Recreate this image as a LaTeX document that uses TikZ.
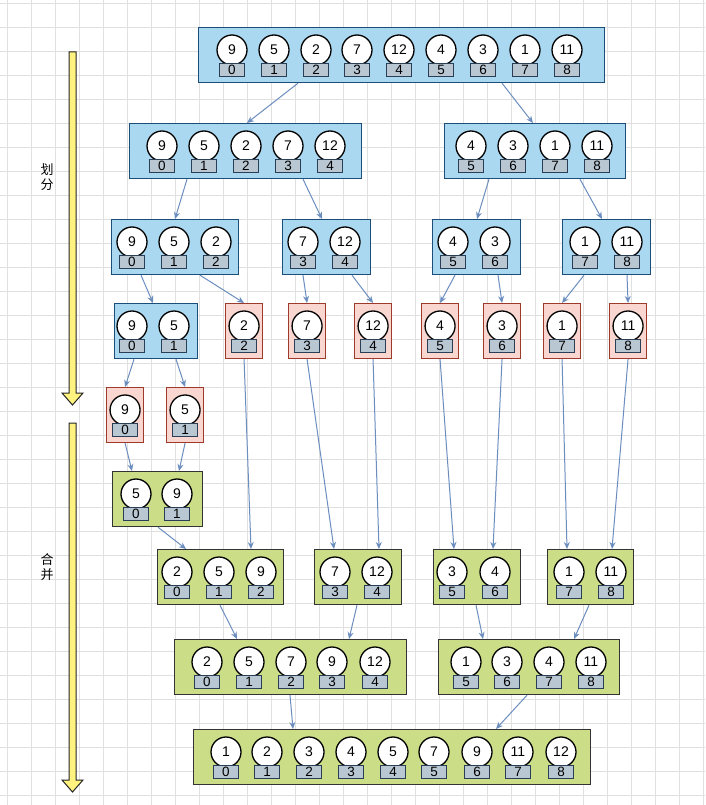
\documentclass[tikz,border=0pt]{standalone}
\usepackage{fontspec}
\setmainfont{Liberation Sans}
\newfontfamily\cjk{Noto Sans CJK SC}
\usetikzlibrary{arrows.meta,calc}
\definecolor{gridc}{HTML}{E0E0E0}
\definecolor{bfill}{HTML}{AAD8F0}
\definecolor{bdraw}{HTML}{1B4F7A}
\definecolor{rfill}{HTML}{F9D6CF}
\definecolor{rdraw}{HTML}{9E3A2C}
\definecolor{gfill}{HTML}{CCDD88}
\definecolor{gdraw}{HTML}{333333}
\definecolor{ifill}{HTML}{B9C7D3}
\definecolor{idraw}{HTML}{2A3F55}
\definecolor{conc}{HTML}{6C8EBF}
\definecolor{yfill}{HTML}{FFF27E}
\tikzset{
  bluebox/.style={draw=bdraw,fill=bfill,line width=1.2pt,inner sep=0pt},
  redbox/.style={draw=rdraw,fill=rfill,line width=1.1pt,inner sep=0pt},
  greenbox/.style={draw=gdraw,fill=gfill,line width=1.2pt,inner sep=0pt},
  elem/.style={circle,draw=black,fill=white,line width=1.3pt,minimum size=30pt,inner sep=0pt,font=\fontsize{14}{14}\selectfont},
  idx/.style={rectangle,draw=idraw,fill=ifill,line width=0.9pt,minimum width=25pt,minimum height=13pt,inner sep=0pt,font=\fontsize{13.5}{13.5}\selectfont},
  conn/.style={draw=conc,line width=1pt,-{Stealth[length=7pt,width=6pt]}},
  yarrow/.style={draw=black!85,fill=yfill,line width=1pt,line join=miter},
}
% #1 name, #2 style, #3 left, #4 top, #5 width, #6 list cx/value/index
\newcommand{\mkarr}[6]{%
  \node[#2,minimum width=#5pt,minimum height=55pt,anchor=north west] (#1) at (#3,#4) {};
  \foreach \cx/\v/\i [count=\k] in {#6} {
    \node[elem] (#1-\k) at (\cx,#4+23) {\v};
    \node[idx] (#1-i\k) at (\cx,#4+42.5) {\i};
  }
}
\newcommand{\mkone}[4]{%
  \node[redbox,minimum width=37pt,minimum height=55pt,anchor=north west] (#1) at (#2) {};
  \node[elem] (#1-c) at ([yshift=-23pt]#1.north) {#3};
  \node[idx] (#1-i) at ([yshift=-42.5pt]#1.north) {#4};
}
\begin{document}
\begin{tikzpicture}[x=1pt,y=-1pt]
\useasboundingbox (0,0) rectangle (705,805);
\fill[white] (0,0) rectangle (705,805);
% grid
\foreach \gx in {7,31,...,703} \draw[gridc,line width=0.9pt] (\gx,0) -- (\gx,805);
\foreach \gy in {3,27,...,803} \draw[gridc,line width=0.9pt] (0,\gy) -- (705,\gy);

% yellow arrows
\draw[yarrow] (69,52) -- (76,52) -- (76,393) -- (83,393) -- (72.5,405) -- (62,393) -- (69,393) -- cycle;
\draw[yarrow] (69,423) -- (76,423) -- (76,780) -- (83,780) -- (72.5,792) -- (62,780) -- (69,780) -- cycle;
\node[font=\cjk\fontsize{13}{15.5}\selectfont,align=center] (lbl1) at (47,177) {划\\分};
\node[font=\cjk\fontsize{13}{15.5}\selectfont,align=center] (lbl2) at (47,567) {合\\并};

% boxes
\mkarr{top}{bluebox}{198}{27}{406}{232/9/0,274/5/1,316/2/2,357/7/3,399/12/4,441/4/5,483/3/6,525/1/7,567/11/8}
\mkarr{Ltwoa}{bluebox}{129}{123}{232}{162/9/0,204/5/1,246/2/2,288/7/3,330/12/4}
\mkarr{Ltwob}{bluebox}{444}{123}{181}{471/4/5,513/3/6,555/1/7,597/11/8}
\mkarr{Lthra}{bluebox}{111}{219}{127}{132/9/0,174/5/1,216/2/2}
\mkarr{Lthrb}{bluebox}{282}{219}{88}{303/7/3,345/12/4}
\mkarr{Lthrc}{bluebox}{432}{219}{88}{453/4/5,495/3/6}
\mkarr{Lthrd}{bluebox}{562}{219}{88}{585/1/7,627/11/8}
\mkarr{Lfoura}{bluebox}{114}{303}{83}{132/9/0,174/5/1}
\mkone{rtwo}{225,303}{2}{2}
\mkone{rseven}{288,303}{7}{3}
\mkone{rtwelve}{354,303}{12}{4}
\mkone{rfour}{421,303}{4}{5}
\mkone{rthree}{483,303}{3}{6}
\mkone{rone}{543,303}{1}{7}
\mkone{releven}{609,303}{11}{8}
\mkone{rnine}{106,387}{9}{0}
\mkone{rfive}{166,387}{5}{1}
\mkarr{Gsix}{greenbox}{112}{471}{90}{136/5/0,177/9/1}
\mkarr{Gsevena}{greenbox}{157}{549}{126}{177/2/0,219/5/1,261/9/2}
\mkarr{Gsevenb}{greenbox}{314}{549}{87}{335/7/3,377/12/4}
\mkarr{Gsevenc}{greenbox}{433}{549}{87}{452/3/5,495/4/6}
\mkarr{Gsevend}{greenbox}{547}{549}{86}{569/1/7,611/11/8}
\mkarr{Geighta}{greenbox}{174}{639}{232}{207/2/0,249/5/1,291/7/2,332/9/3,375/12/4}
\mkarr{Geightb}{greenbox}{438}{639}{181}{466/1/5,507/3/6,549/4/7,591/11/8}
\mkarr{Gnine}{greenbox}{193}{729}{397}{226/1/0,267/2/1,309/3/2,351/4/3,393/5/4,434/7/5,477/9/6,518/11/7,561/12/8}

% connectors: divide
\draw[conn] ([xshift=100pt]top.south west) -- ([xshift=118pt]Ltwoa.north west);
\draw[conn] ([xshift=304pt]top.south west) -- ([xshift=89pt]Ltwob.north west);
\draw[conn] ([xshift=58pt]Ltwoa.south west) -- ([xshift=64pt]Lthra.north west);
\draw[conn] ([xshift=174pt]Ltwoa.south west) -- ([xshift=40pt]Lthrb.north west);
\draw[conn] ([xshift=45pt]Ltwob.south west) -- ([xshift=45pt]Lthrc.north west);
\draw[conn] ([xshift=136pt]Ltwob.south west) -- ([xshift=40pt]Lthrd.north west);
\draw[conn] ([xshift=30pt]Lthra.south west) -- ([xshift=39pt]Lfoura.north west);
\draw[conn] ([xshift=89pt]Lthra.south west) -- (rtwo.north);
\draw[conn] ([xshift=21pt]Lthrb.south west) -- (rseven.north);
\draw[conn] ([xshift=70pt]Lthrb.south west) -- (rtwelve.north);
\draw[conn] ([xshift=23pt]Lthrc.south west) -- (rfour.north);
\draw[conn] ([xshift=66pt]Lthrc.south west) -- (rthree.north);
\draw[conn] ([xshift=22pt]Lthrd.south west) -- (rone.north);
\draw[conn] ([xshift=65pt]Lthrd.south west) -- (releven.north);
\draw[conn] ([xshift=20pt]Lfoura.south west) -- (rnine.north);
\draw[conn] ([xshift=62pt]Lfoura.south west) -- (rfive.north);
% connectors: merge
\draw[conn] (rnine.south) -- ([xshift=20pt]Gsix.north west);
\draw[conn] (rfive.south) -- ([xshift=67pt]Gsix.north west);
\draw[conn] ([xshift=46pt]Gsix.south west) -- ([xshift=29pt]Gsevena.north west);
\draw[conn] (rtwo.south) -- ([xshift=94pt]Gsevena.north west);
\draw[conn] (rseven.south) -- ([xshift=20pt]Gsevenb.north west);
\draw[conn] (rtwelve.south) -- ([xshift=65pt]Gsevenb.north west);
\draw[conn] (rfour.south) -- ([xshift=21pt]Gsevenc.north west);
\draw[conn] (rthree.south) -- ([xshift=60pt]Gsevenc.north west);
\draw[conn] (rone.south) -- ([xshift=20pt]Gsevend.north west);
\draw[conn] (releven.south) -- ([xshift=65pt]Gsevend.north west);
\draw[conn] ([xshift=63pt]Gsevena.south west) -- ([xshift=63pt]Geighta.north west);
\draw[conn] ([xshift=43pt]Gsevenb.south west) -- ([xshift=175pt]Geighta.north west);
\draw[conn] ([xshift=43pt]Gsevenc.south west) -- ([xshift=45pt]Geightb.north west);
\draw[conn] ([xshift=42pt]Gsevend.south west) -- ([xshift=136pt]Geightb.north west);
\draw[conn] ([xshift=116pt]Geighta.south west) -- ([xshift=100pt]Gnine.north west);
\draw[conn] ([xshift=89pt]Geightb.south west) -- ([xshift=303pt]Gnine.north west);
\end{tikzpicture}
\end{document}
